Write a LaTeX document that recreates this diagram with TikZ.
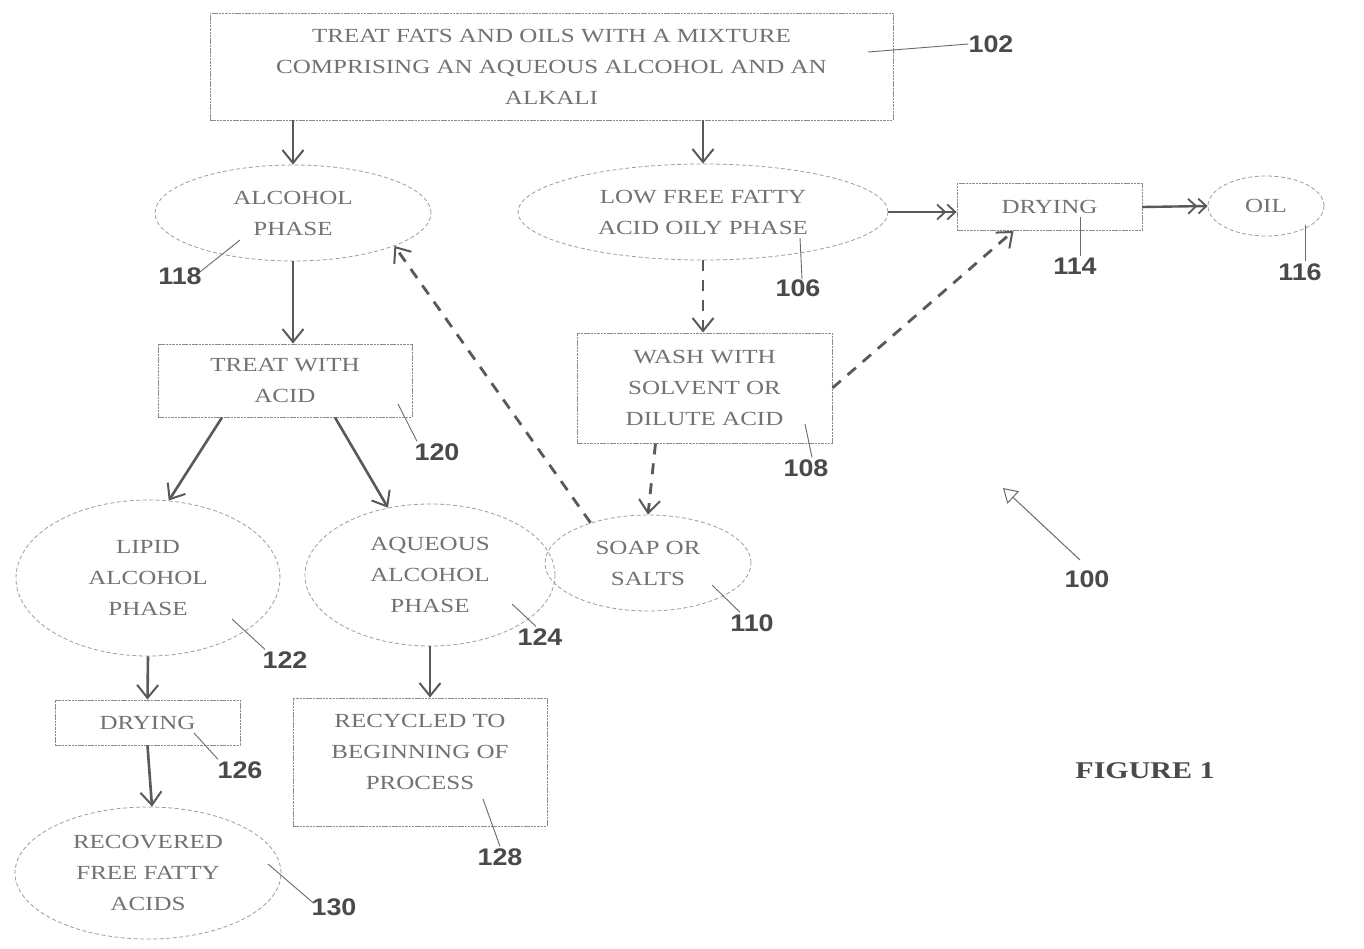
\documentclass[tikz,border=0pt]{standalone}
\usepackage{fontspec}
\usetikzlibrary{shapes.geometric,arrows.meta}
\newfontfamily\boxfont[FakeStretch=1.25]{Liberation Serif}
\newfontfamily\numfont[FakeStretch=1.12]{Liberation Sans}
\definecolor{txtc}{HTML}{727272}
\definecolor{boxc}{HTML}{8A8A8A}
\definecolor{ellc}{HTML}{9E9E9E}
\definecolor{arrc}{HTML}{595959}
\definecolor{numc}{HTML}{4A4A4A}
\definecolor{leadc}{HTML}{6A6A6A}
\begin{document}
\begin{tikzpicture}[x=1pt,y=-1pt,
  boxn/.style={rectangle, draw=boxc, line width=0.9pt, dash pattern=on 2.5pt off 0.8pt,
    inner sep=0pt, align=center, text=txtc, font=\boxfont\fontsize{20}{31}\selectfont},
  elln/.style={ellipse, draw=ellc, line width=0.8pt, dash pattern=on 4pt off 2.5pt,
    inner sep=0pt, align=center, text=txtc, font=\boxfont\fontsize{20}{31}\selectfont},
  txtn/.style={inner sep=0pt, align=center, text=txtc, font=\boxfont\fontsize{20}{31}\selectfont},
  num/.style={inner sep=0pt, text=numc, font=\numfont\bfseries\fontsize{24}{24}\selectfont},
  arr/.style={draw=arrc, line width=2.6pt, -{Straight Barb[length=13pt,width=21pt,line width=2pt]}},
  harr/.style={draw=arrc, line width=2.4pt, -{Straight Barb[length=8pt,width=15pt,line width=1.8pt] Straight Barb[length=8pt,width=15pt,line width=1.8pt]}},
  darr/.style={draw=arrc, line width=2.8pt, dash pattern=on 11pt off 9pt, -{Straight Barb[length=13pt,width=21pt,line width=2pt]}},
  lead/.style={draw=leadc, line width=0.9pt},
]
\useasboundingbox[fill=white] (0,0) rectangle (1364,948);

% nodes
\node[boxn, minimum width=683pt, minimum height=107pt] (n102) at (551.5,66.5)
  {TREAT FATS AND OILS WITH A MIXTURE\\COMPRISING AN AQUEOUS ALCOHOL AND AN\\ALKALI};
\node[elln, minimum width=276pt, minimum height=96pt] (n118) at (293,213) {ALCOHOL\\PHASE};
\node[elln, minimum width=370pt, minimum height=96pt] (n106) at (703,212) {LOW FREE FATTY\\ACID OILY PHASE};
\node[boxn, minimum width=185pt, minimum height=47pt] (n114) at (1049.5,207) {DRYING};
\node[elln, minimum width=116pt, minimum height=60pt] (n116) at (1266,206) {OIL};
\node[boxn, minimum width=254pt, minimum height=73pt] (n120) at (285,380.5) {TREAT WITH\\ACID};
\node[boxn, minimum width=255pt, minimum height=110pt] (n108) at (704.5,388) {WASH WITH\\SOLVENT OR\\DILUTE ACID};
\node[elln, minimum width=264pt, minimum height=156pt] (n122) at (148,578) {LIPID\\ALCOHOL\\PHASE};
\node[elln, minimum width=250pt, minimum height=142pt] (n124) at (430,575) {AQUEOUS\\ALCOHOL\\PHASE};
\node[elln, minimum width=206pt, minimum height=96pt] (n110) at (648,563) {SOAP OR\\SALTS};
\node[boxn, minimum width=185pt, minimum height=45pt] (n126) at (147.5,722.5) {DRYING};
\node[boxn, minimum width=254pt, minimum height=128pt] (n128) at (420,762) {};
\node[txtn] (t128) at (420,752) {RECYCLED TO\\BEGINNING OF\\PROCESS};
\node[elln, minimum width=266pt, minimum height=132pt] (n130) at (148,873) {RECOVERED\\FREE FATTY\\ACIDS};

% solid arrows
\draw[arr] (n102.south -| n118.north) -- (n118.north);
\draw[arr] (n102.south -| n106.north) -- (n106.north);
\draw[arr] (n118.south) -- (n118.south |- n120.north);
\draw[arr] ([xshift=-63pt]n120.south) -- (n122.75);
\draw[arr] ([xshift=50pt]n120.south) -- (n124.122);
\draw[arr] (n122.south) -- (n126.north);
\draw[arr] (n126.south) -- ([xshift=4pt]n130.north);
\draw[arr] (n124.south) -- (n124.south |- n128.north);
\draw[harr] (n106.east) -- (n106.east -| n114.west);
\draw[harr] (n114.east) -- (n116.west);

% dashed arrows
\draw[darr] (n106.south) -- (n106.south |- n108.north);
\draw[darr] ([xshift=-49pt]n108.south) -- (n110.north);
\draw[darr] (n108.east) -- ([xshift=-36pt]n114.south);
\draw[darr] (n110.145) -- (n118.-18);

% reference numerals
\node[num] (l102) at (991,44) {102};
\node[num] (l118) at (180,276) {118};
\node[num] (l106) at (798,288) {106};
\node[num] (l114) at (1075,266) {114};
\node[num] (l116) at (1300,272) {116};
\node[num] (l120) at (437,452) {120};
\node[num] (l108) at (806,468) {108};
\node[num] (l122) at (285,660) {122};
\node[num] (l124) at (540,637) {124};
\node[num] (l110) at (752,623) {110};
\node[num] (l126) at (240,770) {126};
\node[num] (l128) at (500,857) {128};
\node[num] (l130) at (334,907) {130};
\node[num] (l100) at (1087,579) {100};
\node[inner sep=0pt, text=numc, font=\boxfont\bfseries\fontsize{24}{24}\selectfont] (fig) at (1145,771) {FIGURE 1};

% leader start points
\coordinate (c102) at (868,52);
\coordinate (c118) at (240,240);
\coordinate (c106) at (800,238);
\coordinate (c114) at (1080,217);
\coordinate (c116) at (1305,225);
\coordinate (c120) at (398,404);
\coordinate (c108) at (805,424);
\coordinate (c122) at (232,619);
\coordinate (c124) at (512,604);
\coordinate (c110) at (712,585);
\coordinate (c126) at (194,733);
\coordinate (c128) at (483,799);
\coordinate (c130) at (268,864);
\coordinate (c100) at (1080,560);

\draw[lead] (c102) -- (l102.west);
\draw[lead] (c118) -- ([xshift=-2pt,yshift=4pt]l118.east);
\draw[lead] (c106) -- ([xshift=4pt]l106.north);
\draw[lead] (c114) -- ([xshift=5pt,yshift=2pt]l114.north);
\draw[lead] (c116) -- ([xshift=5pt,yshift=2pt]l116.north);
\draw[lead] (c120) -- ([xshift=-20pt,yshift=2pt]l120.north);
\draw[lead] (c108) -- ([xshift=6pt,yshift=2pt]l108.north);
\draw[lead] (c122) -- ([xshift=-20pt,yshift=2pt]l122.north);
\draw[lead] (c124) -- ([xshift=-4pt,yshift=2pt]l124.north);
\draw[lead] (c110) -- ([xshift=-12pt,yshift=2pt]l110.north);
\draw[lead] (c126) -- ([xshift=-22pt,yshift=2pt]l126.north);
\draw[lead] (c128) -- ([yshift=2pt]l128.north);
\draw[lead] (c130) -- ([xshift=2pt,yshift=4pt]l130.west);
\draw[draw=leadc, line width=1pt, -{Triangle[open,length=14pt,width=17pt,line width=1pt]}] (c100) -- (1003,488);
\end{tikzpicture}
\end{document}
